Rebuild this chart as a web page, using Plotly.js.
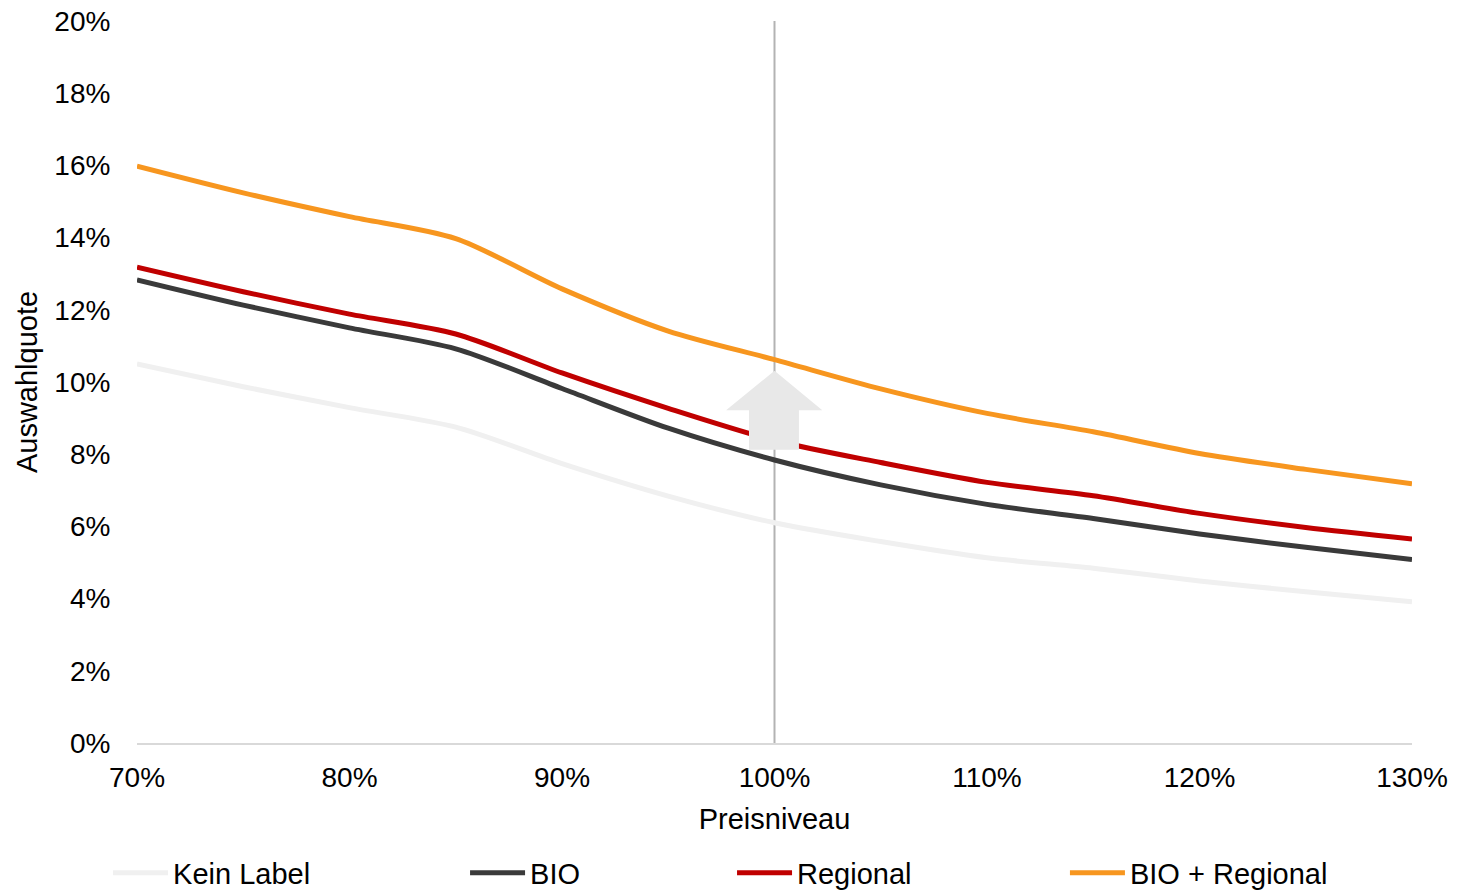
<!DOCTYPE html>
<html>
<head>
<meta charset="utf-8">
<script src="https://cdn.plot.ly/plotly-3.0.1.min.js"></script>
<style>html,body{margin:0;padding:0;background:#fff;}#chart{width:1480px;height:891px;}</style>
</head>
<body>
<div id="chart"></div>
<script>
const priceLevels = [0.70, 0.75, 0.80, 0.85, 0.90, 0.95, 1.00, 1.05, 1.10, 1.15, 1.20, 1.25, 1.30];
const seriesNames = ["Kein Label", "BIO", "Regional", "BIO + Regional"];
const keinLabel = [0.1050, 0.0987, 0.0929, 0.0875, 0.0774, 0.0684, 0.0610, 0.0558, 0.0513, 0.0484, 0.0449, 0.0419, 0.0391];
const bio = [0.1283, 0.1213, 0.1150, 0.1092, 0.0982, 0.0872, 0.0784, 0.0715, 0.0661, 0.0622, 0.0579, 0.0542, 0.0508];
const regional = [0.1318, 0.1250, 0.1188, 0.1133, 0.1025, 0.0927, 0.0838, 0.0777, 0.0722, 0.0685, 0.0636, 0.0597, 0.0565];
const bioRegional = [0.1598, 0.1524, 0.1458, 0.1397, 0.1258, 0.1141, 0.1062, 0.0981, 0.0913, 0.0862, 0.0802, 0.0758, 0.0718];
const xTickVals = [0.7, 0.8, 0.9, 1.0, 1.1, 1.2, 1.3];
const yTickVals = [0, 0.02, 0.04, 0.06, 0.08, 0.10, 0.12, 0.14, 0.16, 0.18, 0.20];

const colors = ["#f0f0f0", "#3a3a3a", "#c00000", "#f7961f"];
const allSeries = [keinLabel, bio, regional, bioRegional];
const legendIds = ["legend", "legend2", "legend3", "legend4"];
const legendX = [-0.0227, 0.2573, 0.4667, 0.7278];

const FONT = "Liberation Sans, Arial, sans-serif";
const traces = allSeries.map((vals, i) => ({
  x: priceLevels, y: vals, name: seriesNames[i], type: "scatter", mode: "lines",
  line: {color: colors[i], width: 5, shape: "spline", smoothing: 0.8},
  legend: legendIds[i], hoverinfo: "x+y+name"
}));

const layout = {
  width: 1480, height: 891,
  margin: {l: 137, r: 68, t: 21, b: 148, autoexpand: false},
  paper_bgcolor: "#ffffff", plot_bgcolor: "#ffffff",
  font: {family: FONT, size: 28, color: "#000"},
  xaxis: {
    range: [0.7, 1.3], tickvals: xTickVals, tickformat: ".0%",
    showgrid: false, zeroline: false, showline: true, linecolor: "#d9d9d9", linewidth: 1.5,
    ticks: "outside", ticklen: 9, tickcolor: "rgba(0,0,0,0)",
    tickfont: {size: 28, family: FONT}, tickangle: 0,
    title: {text: "Preisniveau", font: {size: 29, family: FONT}, standoff: 16}
  },
  yaxis: {
    range: [0, 0.2], tickvals: yTickVals, tickformat: ".0%",
    showgrid: false, zeroline: false, showline: false,
    ticks: "outside", ticklen: 20, tickcolor: "rgba(0,0,0,0)",
    tickfont: {size: 28, family: FONT},
    title: {text: "Auswahlquote", font: {size: 29, family: FONT}, standoff: 8}
  },
  shapes: [
    {type: "line", xref: "x", yref: "y", x0: 1.0, x1: 1.0, y0: 0, y1: 0.2,
     line: {color: "#b3b3b3", width: 2}, layer: "below"},
    {type: "path", xref: "x", yref: "y", layer: "above",
     path: "M 1.0,0.1031 L 1.0225,0.0922 L 1.0115,0.0922 L 1.0115,0.0812 L 0.9880,0.0812 L 0.9880,0.0922 L 0.9772,0.0922 Z",
     fillcolor: "#e8e8e8", line: {width: 0}}
  ],
  showlegend: true
};
legendIds.forEach((id, i) => {
  layout[id] = {
    x: legendX[i], y: 0.0202, xanchor: "left", yanchor: "middle", xref: "paper", yref: "container",
    orientation: "h", bgcolor: "rgba(0,0,0,0)", itemwidth: 55,
    font: {size: 29, family: FONT, color: "#000"}
  };
});

Plotly.newPlot("chart", traces, layout, {displayModeBar: false, staticPlot: true});
</script>
</body>
</html>
